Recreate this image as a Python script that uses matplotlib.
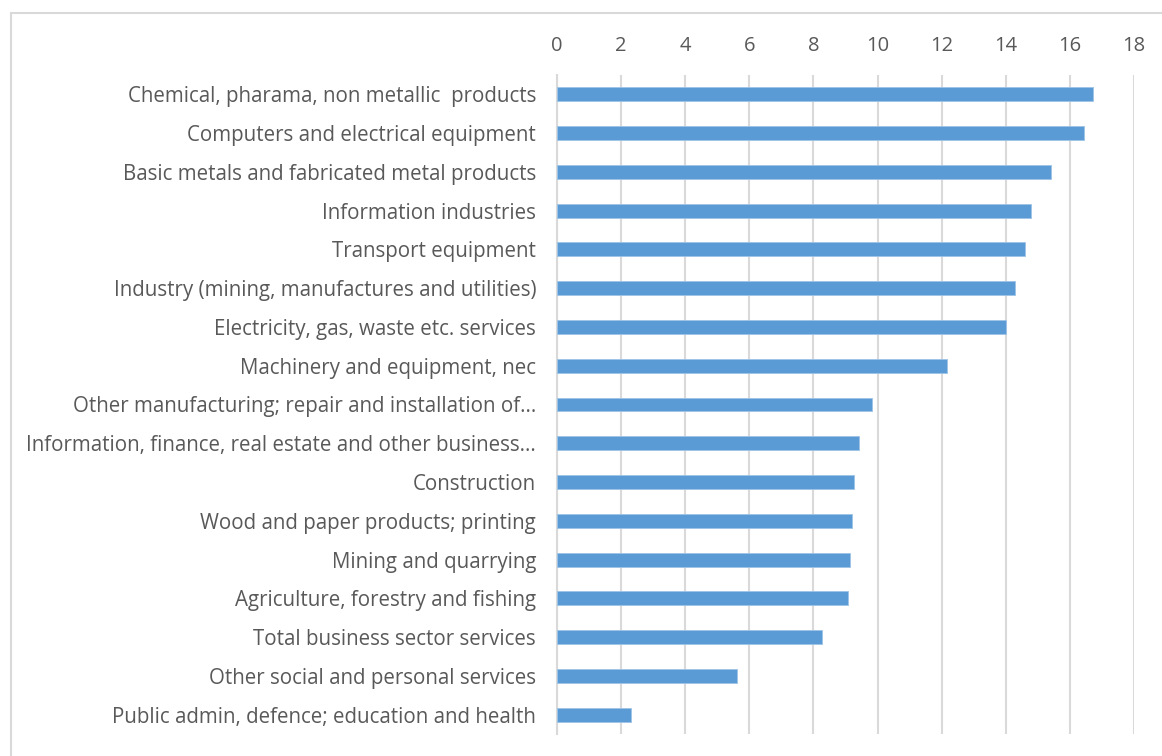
import matplotlib.pyplot as plt
from matplotlib.patches import Rectangle

# Sector labels, top to bottom
sectors = [
    "Chemical, pharama, non metallic  products",
    "Computers and electrical equipment",
    "Basic metals and fabricated metal products",
    "Information industries",
    "Transport equipment",
    "Industry (mining, manufactures and utilities)",
    "Electricity, gas, waste etc. services",
    "Machinery and equipment, nec",
    "Other manufacturing; repair and installation of...",
    "Information, finance, real estate and other business...",
    "Construction",
    "Wood and paper products; printing",
    "Mining and quarrying",
    "Agriculture, forestry and fishing",
    "Total business sector services",
    "Other social and personal services",
    "Public admin, defence; education and health",
]
values = [16.72, 16.44, 15.41, 14.79, 14.60, 14.29, 14.00, 12.16, 9.83,
          9.42, 9.26, 9.20, 9.14, 9.08, 8.27, 5.61, 2.31]
x_ticks = [0, 2, 4, 6, 8, 10, 12, 14, 16, 18]

plt.rcParams['font.family'] = ['Open Sans', 'DejaVu Sans']

fig = plt.figure(figsize=(11.62, 7.56), dpi=100)
ax = fig.add_axes([0.4793, 0.0291, 0.9759 - 0.4793, 0.9008 - 0.0291])

# outer chart border
fig.patches.append(Rectangle((11 / 1162, -0.01), 1.02, 1 - 13 / 756 + 0.01,
                             transform=fig.transFigure, fill=False,
                             edgecolor='#d9d9d9', linewidth=1.5))

pos = list(range(len(sectors)))
ax.barh(pos, values, height=0.36, color='#5b9bd5', edgecolor='#9dc3e6',
        linewidth=0.6, zorder=3)

ax.set_ylim(len(sectors) - 0.5, -0.5)
ax.set_xlim(0, 18)
ax.set_xticks(x_ticks)
ax.set_yticks(pos)
ax.set_yticklabels(sectors)

ax.xaxis.tick_top()
ax.tick_params(axis='x', length=0, pad=14, labelsize=14.5, colors='#595959')
ax.tick_params(axis='y', length=0, pad=15, labelsize=14.8, colors='#595959')
ax.grid(axis='x', color='#d9d9d9', linewidth=1.5, zorder=0)
for side in ['top', 'right', 'bottom']:
    ax.spines[side].set_visible(False)
ax.spines['left'].set_color('#d9d9d9')
ax.spines['left'].set_linewidth(1.5)

fig.savefig('out.png', dpi=100)
